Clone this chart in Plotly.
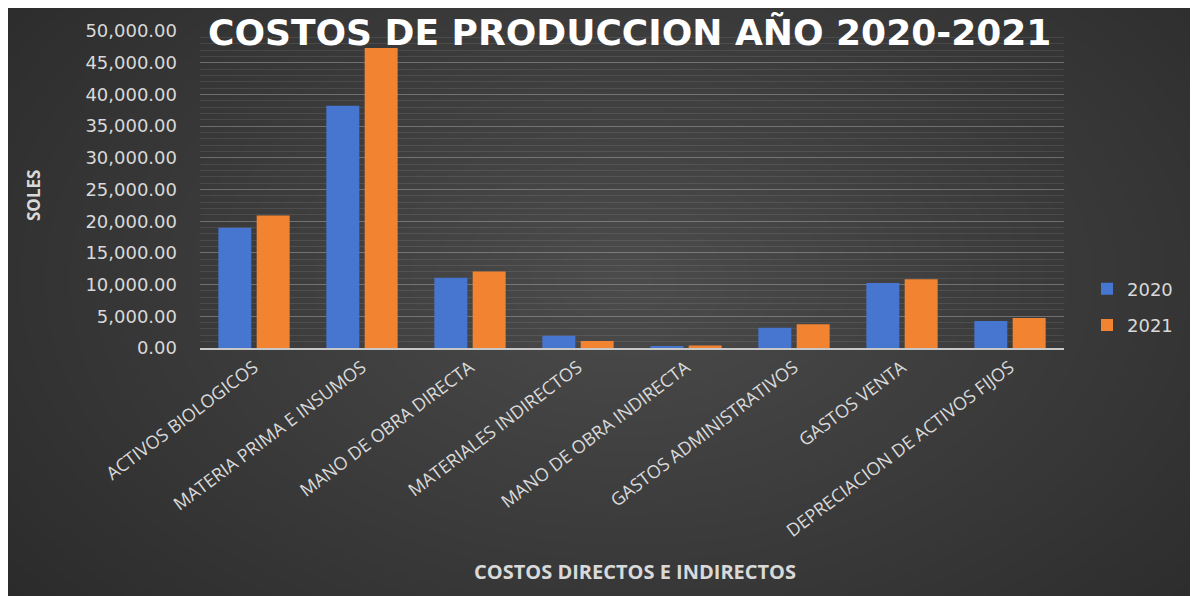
import plotly.graph_objects as go

categories = [
    "ACTIVOS BIOLOGICOS",
    "MATERIA PRIMA E INSUMOS",
    "MANO DE OBRA DIRECTA",
    "MATERIALES INDIRECTOS",
    "MANO DE OBRA INDIRECTA",
    "GASTOS ADMINISTRATIVOS",
    "GASTOS VENTA",
    "DEPRECIACION DE ACTIVOS FIJOS",
]
values_2020 = [18950, 38200, 11100, 1950, 300, 3200, 10250, 4250]
values_2021 = [20900, 47300, 12050, 1100, 400, 3750, 10850, 4750]
series_names = ["2020", "2021"]
y_tick_values = [0, 5000, 10000, 15000, 20000, 25000, 30000, 35000, 40000, 45000, 50000]

OFF = 8  # page body margin
W, H = 1198, 596
L, R, T, B = 192, 142, 23, 256
PW, PH = W - L - R, H - T - B


def px_x(p):
    return (p - OFF - L) / PW


def px_y(p):
    return (H - B - (p - OFF)) / PH


fig = go.Figure()
fig.add_trace(go.Bar(x=categories, y=values_2020, name=series_names[0],
                     marker=dict(color="#4676d0", line=dict(width=0)),
                     legendgroup="a"))
fig.add_trace(go.Bar(x=categories, y=values_2021, name=series_names[1],
                     marker=dict(color="#f28330", line=dict(width=0)),
                     legendgroup="b"))

shapes = []
cx, cy = 630, 280
n = 32
for i in range(n):
    f = 1 - i / n
    rx, ry = 780 * f, 500 * f
    shapes.append(dict(type="circle", xref="paper", yref="paper", layer="below",
                       x0=px_x(cx - rx), x1=px_x(cx + rx),
                       y0=px_y(cy + ry), y1=px_y(cy - ry),
                       fillcolor="rgba(255,255,255,0.0098)", line=dict(width=0)))

label_color = "#d9d9d9"

fig.update_layout(
    width=W, height=H,
    margin=dict(l=L, r=R, t=T, b=B, pad=0),
    paper_bgcolor="#2b2b2b",
    plot_bgcolor="rgba(0,0,0,0)",
    barmode="group",
    bargap=0.29,
    bargroupgap=0.14,
    shapes=shapes,
    showlegend=True,
    legend=dict(x=px_x(1087), y=px_y(307), xanchor="left", yanchor="middle",
                bgcolor="rgba(0,0,0,0)", tracegroupgap=10,
                font=dict(family="DejaVu Sans", size=18, color=label_color)),
    font=dict(family="Open Sans", color=label_color),
    annotations=[
        dict(text="<b>COSTOS DE PRODUCCION AÑO 2020-2021</b>", xref="paper", yref="paper",
             x=px_x(629), y=px_y(33), xanchor="center", yanchor="middle", showarrow=False,
             font=dict(family="DejaVu Sans", size=36, color="white")),
        dict(text="<b>SOLES</b>", xref="paper", yref="paper",
             x=px_x(33), y=px_y(196), xanchor="center", yanchor="middle", showarrow=False,
             textangle=-90,
             font=dict(family="Open Sans", size=17, color=label_color)),
        dict(text="<b>COSTOS DIRECTOS E INDIRECTOS</b>", xref="paper", yref="paper",
             x=px_x(635), y=px_y(571), xanchor="center", yanchor="middle", showarrow=False,
             font=dict(family="Open Sans", size=20, color=label_color)),
    ],
)

fig.update_xaxes(
    tickangle=-37,
    tickfont=dict(family="Open Sans", size=18, color=label_color),
    showline=True, linecolor="#c8c8c8", linewidth=2,
    showgrid=False, ticks="", ticklen=0,
)
fig.update_yaxes(
    range=[0, 50000],
    tickvals=y_tick_values,
    tickformat=",.2f",
    tickfont=dict(family="DejaVu Sans", size=18, color=label_color),
    showgrid=True, gridcolor="rgba(255,255,255,0.20)", gridwidth=1,
    minor=dict(dtick=1000, showgrid=True, gridcolor="rgba(255,255,255,0.09)", gridwidth=1),
    zeroline=False, showline=False, ticks="", ticklabelstandoff=22,
)

fig.write_html("out.html")
